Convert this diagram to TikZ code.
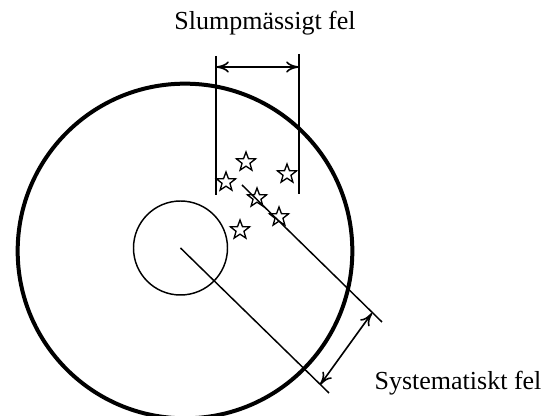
\documentclass[tikz,border=0pt]{standalone}
\usepackage{fontspec}
\setmainfont{Liberation Serif}
\usetikzlibrary{arrows.meta,shapes.geometric}

\begin{document}
\begin{tikzpicture}[x=0.75pt,y=-0.75pt,
  ring/.style={draw,circle,inner sep=0pt},
  punkt/.style={draw,star,star points=5,star point ratio=2.4,minimum size=15pt,inner sep=0pt,line width=1pt},
  hjalp/.style={line width=1.1pt},
  matt/.style={{To[length=3.4mm,width=3mm]}-{To[length=3.4mm,width=3mm]},line width=1.2pt},
  etikett/.style={font=\fontsize{19.5}{22}\selectfont,inner sep=0pt,anchor=base}
]
\useasboundingbox (0,0) rectangle (547,416);
\clip (0,0) rectangle (547,416);
% tavla
\node[ring,line width=3pt,minimum size=251pt] (tavla) at (185,251) {};
\node[ring,line width=1.1pt,minimum size=70.5pt] (mitt) at (180.5,248) {};
% traffar
\node[punkt] (s1) at (246,162) {};
\node[punkt] (s2) at (226,182) {};
\node[punkt] (s3) at (287,174) {};
\node[punkt] (s4) at (257,198) {};
\node[punkt] (s5) at (279,217) {};
\node[punkt] (s6) at (240,230) {};
% slumpmassigt fel
\coordinate (v1) at (216,56);
\coordinate (v1b) at (216,195);
\coordinate (v2) at (299,54);
\coordinate (v2b) at (299,194);
\coordinate (pv1) at (216,67);
\coordinate (pv2) at (299,67);
\draw[hjalp] (v1) -- (v1b);
\draw[hjalp] (v2) -- (v2b);
\draw[matt] (pv1) -- (pv2);
% systematiskt fel
\coordinate (d1) at (329,393);
\coordinate (d2a) at (242,185);
\coordinate (d2) at (382,322);
\coordinate (p1) at (320,385);
\coordinate (p2) at (372,313);
\draw[hjalp] (mitt.center) -- (d1);
\draw[hjalp] (d2a) -- (d2);
\draw[matt] (p1) -- (p2);
% texter
\node[etikett] (slump) at (265,30) {Slumpmässigt fel};
\node[etikett] (syst) at (458,390) {Systematiskt fel};
\end{tikzpicture}
\end{document}
